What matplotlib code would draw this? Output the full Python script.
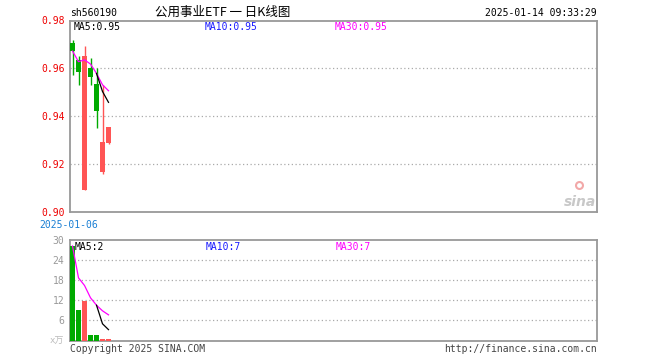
import matplotlib
matplotlib.use("Agg")
import matplotlib.pyplot as plt
import numpy as np
import pandas as pd

# ---- data ----
dates = ["2025-01-06", "2025-01-07", "2025-01-08", "2025-01-09",
         "2025-01-10", "2025-01-13", "2025-01-14"]
opens = [0.9705, 0.9633, 0.9092, 0.9601, 0.9536, 0.9164, 0.9286]
closes = [0.9672, 0.9583, 0.9651, 0.9564, 0.9422, 0.9293, 0.9356]
highs = [0.9717, 0.9652, 0.9693, 0.9642, 0.9601, 0.9529, 0.9356]
lows = [0.9573, 0.9529, 0.9088, 0.9529, 0.9351, 0.9158, 0.9282]
volumes = [28.2, 9.2, 11.9, 1.7, 1.7, 0.45, 0.45]

price_ticks = [0.90, 0.92, 0.94, 0.96, 0.98]
price_tick_labels = ["0.90", "0.92", "0.94", "0.96", "0.98"]
vol_ticks = [0, 6, 12, 18, 24, 30]
vol_tick_labels = ["x万", "6", "12", "18", "24", "30"]

code = "sh560190"
title = "公用事业ETF 一 日K线图"
timestamp = "2025-01-14 09:33:29"
price_legend = ["MA5:0.95", "MA10:0.95", "MA30:0.95"]
vol_legend = ["MA5:2", "MA10:7", "MA30:7"]

RED = "#ff5555"
GREEN = "#00aa00"
BORDER = "#999999"
MONO = ["DejaVu Sans Mono", "Noto Sans CJK SC"]

W, H = 660, 360
fig = plt.figure(figsize=(W / 100, H / 100), dpi=100)

def px_axes(x0, y0, x1, y1):
    return fig.add_axes([x0 / W, 1 - y1 / H, (x1 - x0) / W, (y1 - y0) / H])

ax = px_axes(70, 20.5, 597, 211.5)
axv = px_axes(70, 240, 597, 340.5)

x = np.arange(len(dates))
o = np.array(opens); c = np.array(closes)
colors = [RED if cc >= oo else GREEN for oo, cc in zip(opens, closes)]

slot = 6.0  # px per candle
xl = (-2.5 / slot, -2.5 / slot + 527 / slot)

# candles
ax.vlines(x, lows, highs, colors=colors, linewidth=1, zorder=3)
ax.bar(x, np.abs(c - o), bottom=np.minimum(o, c), width=0.8,
       color=colors, zorder=4, linewidth=0)

s = pd.Series(closes)
ma5 = s.rolling(5).mean()
ma30 = s.expanding().mean()
ax.plot(x, ma30, color="#ff00ff", linewidth=0.9, zorder=5)
ax.plot(x, ma5, color="black", linewidth=0.9, zorder=5)

ax.set_xlim(*xl)
ax.set_ylim(0.90, 0.98)
ax.set_yticks(price_ticks)
ax.set_yticklabels(price_tick_labels)
for t in ax.get_yticklabels():
    t.set_color("#ee0000")
    t.set_family(MONO)
    t.set_fontsize(7)
ax.set_xticks([])
for yv in price_ticks[1:-1]:
    ax.axhline(yv, color="#aaaaaa", linestyle=(0, (1, 2)), linewidth=0.9, zorder=1)

# volume
axv.bar(x, volumes, width=0.8, color=colors, linewidth=0, zorder=3)
vs = pd.Series(volumes)
axv.plot(x, vs.expanding().mean(), color="#ff00ff", linewidth=0.9, zorder=5)
axv.plot(x, vs.rolling(5).mean(), color="black", linewidth=0.9, zorder=5)
axv.set_xlim(*xl)
axv.set_ylim(0, 30)
axv.set_yticks(vol_ticks)
axv.set_yticklabels(vol_tick_labels)
for i, t in enumerate(axv.get_yticklabels()):
    t.set_color("#bbbbbb" if i == 0 else "#999999")
    t.set_family(MONO)
    t.set_fontsize(7 if i else 6.5)
axv.set_xticks([])
for yv in vol_ticks[1:-1]:
    axv.axhline(yv, color="#aaaaaa", linestyle=(0, (1, 2)), linewidth=0.9, zorder=1)

for a in (ax, axv):
    a.tick_params(axis="y", length=0, pad=4)
    for sp in a.spines.values():
        sp.set_color(BORDER)
        sp.set_linewidth(1.3)
    a.set_facecolor("white")

# header texts
def ftext(px, py, s, **kw):
    fig.text(px / W, 1 - py / H, s, **kw)

ftext(70, 13.5, code, ha="left", va="center", fontsize=7, family=MONO, color="black")
ftext(223, 12, title, ha="center", va="center", fontsize=9,
      family=["Noto Sans CJK SC", "DejaVu Sans"], color="black")
ftext(597, 13.5, timestamp, ha="right", va="center", fontsize=7, family=MONO, color="black")

leg_x = [74, 205, 335]
leg_c = ["black", "#1a1aff", "#ff00ff"]
for lx, s_, col in zip(leg_x, price_legend, leg_c):
    ftext(lx, 26.5, s_, ha="left", va="center", fontsize=7, family=MONO, color=col)
for lx, s_, col in zip(leg_x, vol_legend, leg_c):
    ftext(lx + 1, 246.5, s_, ha="left", va="center", fontsize=7, family=MONO, color=col)

# date label under first candle
ax.annotate(dates[0], xy=(x[0], 0), xycoords=("data", "axes fraction"),
            xytext=(-3, -10), textcoords="offset points", ha="center", va="center",
            fontsize=7, family=MONO, color="#1a7fd4")

# footer
ftext(70, 348.5, "Copyright 2025 SINA.COM", ha="left", va="center", fontsize=7,
      family=MONO, color="#444444")
ftext(597, 348.5, "http://finance.sina.com.cn", ha="right", va="center", fontsize=7,
      family=MONO, color="#444444")

# sina watermark
ftext(596, 202, "sina", ha="right", va="center", fontsize=10, family="DejaVu Sans",
      style="italic", weight="bold", color="#c8c8c8")
ax.plot([0.966], [0.14], transform=ax.transAxes, marker="o", markersize=5,
        markerfacecolor="none", markeredgecolor="#f2a8a8", markeredgewidth=1.5,
        clip_on=False, zorder=2)

fig.savefig("out.png", dpi=100)
